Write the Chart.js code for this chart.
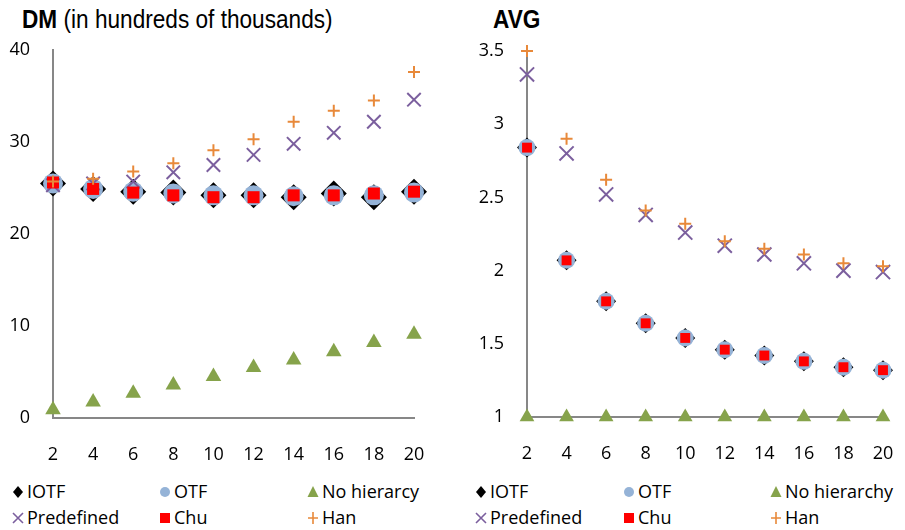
<!DOCTYPE html>
<html>
<head>
<meta charset="utf-8">
<script src="https://cdn.jsdelivr.net/npm/chart.js@4.4.1/dist/chart.umd.min.js"></script>
<style>
body { margin: 0; background: #fff; width: 905px; height: 530px; overflow: hidden; position: relative; font-family: "Open Sans", sans-serif; }
canvas.chart { position: absolute; top: 0; }
.title { position: absolute; top: 6px; font-family: "Liberation Sans", Arial, sans-serif; font-size: 26px; line-height: 26px; transform: scaleX(0.87); transform-origin: 0 0; white-space: nowrap; color: #000; }
.leg { position: absolute; font-size: 18px; line-height: 20px; white-space: nowrap; color: #000; }
.mark { position: absolute; }
</style>
</head>
<body>

<div class="title" style="left:22px"><b>DM</b> (in hundreds of thousands)</div>
<div class="title" style="left:493px"><b>AVG</b></div>

<canvas id="dmChart" class="chart" width="450" height="470" style="left:0;width:450px;height:470px"></canvas>
<canvas id="avgChart" class="chart" width="445" height="470" style="left:460px;width:445px;height:470px"></canvas>

<div id="legends"></div>

<script>
//Données
var xValues = [2, 4, 6, 8, 10, 12, 14, 16, 18, 20];
var dmLabels = ['IOTF', 'OTF', 'No hierarcy', 'Predefined', 'Chu', 'Han'];
var avgLabels = ['IOTF', 'OTF', 'No hierarchy', 'Predefined', 'Chu', 'Han'];

var dm_IOTF = [25.5, 24.9, 24.6, 24.5, 24.2, 24.2, 24.0, 24.4, 24.0, 24.6];
var dm_OTF = [25.5, 24.9, 24.6, 24.4, 24.2, 24.2, 24.1, 24.2, 24.2, 24.5];
var dm_NoHierarchy = [0.9, 1.75, 2.7, 3.6, 4.5, 5.5, 6.3, 7.2, 8.2, 9.1];
var dm_Predefined = [25.3, 25.5, 25.7, 26.7, 27.5, 28.6, 29.8, 31.0, 32.2, 34.6];
var dm_Chu = [25.6, 24.9, 24.5, 24.2, 24.0, 24.0, 24.2, 24.2, 24.4, 24.6];
var dm_Han = [25.7, 26.0, 26.8, 27.7, 29.1, 30.3, 32.2, 33.4, 34.5, 37.6];

var avg_IOTF = [2.84, 2.07, 1.79, 1.64, 1.54, 1.46, 1.42, 1.38, 1.34, 1.32];
var avg_OTF = [2.84, 2.07, 1.79, 1.64, 1.54, 1.46, 1.42, 1.38, 1.34, 1.32];
var avg_NoHierarchy = [1, 1, 1, 1, 1, 1, 1, 1, 1, 1];
var avg_Predefined = [3.34, 2.80, 2.52, 2.38, 2.26, 2.17, 2.11, 2.05, 2.00, 1.99];
var avg_Chu = [2.84, 2.07, 1.79, 1.64, 1.54, 1.46, 1.42, 1.38, 1.34, 1.32];
var avg_Han = [3.50, 2.90, 2.62, 2.41, 2.32, 2.20, 2.15, 2.11, 2.05, 2.03];

var dmTicks = { min: 0, max: 40, step: 10 };
var avgTicks = { min: 1, max: 3.5, step: 0.5 };

//Styles
var styles = [
    { pointStyle: 'rectRot', color: '#000000', line: false },
    { pointStyle: 'circle', color: '#95B3D7', line: false },
    { pointStyle: 'triangle', color: '#86A34B', line: false },
    { pointStyle: 'crossRot', color: '#7B5F9E', line: true },
    { pointStyle: 'rect', color: '#FF0000', line: false },
    { pointStyle: 'cross', color: '#E8893A', line: true }
];
var dmSizes = [13, 10, 9, 9.5, 8.5, 6];
var avgSizes = [10, 8.5, 8.5, 10, 7, 6];

function toPoints(values) {
    return xValues.map(function (x, i) { return { x: x, y: values[i] }; });
}

function buildDatasets(series, labels, sizes) {
    return series.map(function (values, i) {
        var st = styles[i];
        return {
            label: labels[i],
            data: toPoints(values),
            pointStyle: st.pointStyle,
            pointRadius: sizes[i],
            pointHoverRadius: sizes[i],
            backgroundColor: st.color,
            borderColor: st.color,
            pointBorderWidth: st.line ? 2 : 0,
            showLine: false,
            clip: false,
            order: 6 - i
        };
    });
}

function DisplayGraph(canvasId, series, labels, sizes, ticks, padRight, padTop, yWidth, xHeight) {
    var ctx = document.getElementById(canvasId).getContext('2d');
    return new Chart(ctx, {
        type: 'scatter',
        data: { datasets: buildDatasets(series, labels, sizes) },
        options: {
            responsive: false,
            animation: false,
            devicePixelRatio: 1,
            layout: { padding: { top: padTop, right: padRight, left: 0, bottom: 0 } },
            plugins: { legend: { display: false }, tooltip: { enabled: false } },
            scales: {
                x: {
                    type: 'linear', min: 2, max: 20,
                    border: { display: true, color: '#878787', width: 2 },
                    grid: { display: false, drawTicks: false },
                    ticks: { stepSize: 2, padding: 26, color: '#000', font: { family: 'Open Sans', size: 18 } },
                    afterFit: function (s) { s.height = xHeight; s.paddingLeft = 0; s.paddingRight = 0; }
                },
                y: {
                    min: ticks.min, max: ticks.max,
                    border: { display: true, color: '#878787', width: 2 },
                    grid: { display: false, drawTicks: false },
                    ticks: {
                        stepSize: ticks.step, padding: 23, color: '#000', font: { family: 'Open Sans', size: 18 },
                        callback: function (v) { return String(Math.round(v * 10) / 10); }
                    },
                    afterFit: function (s) { s.width = yWidth; s.paddingTop = 0; s.paddingBottom = 0; }
                }
            }
        }
    });
}

DisplayGraph('dmChart', [dm_IOTF, dm_OTF, dm_NoHierarchy, dm_Predefined, dm_Chu, dm_Han], dmLabels, dmSizes, dmTicks, 36, 50, 53, 52);
DisplayGraph('avgChart', [avg_IOTF, avg_OTF, avg_NoHierarchy, avg_Predefined, avg_Chu, avg_Han], avgLabels, avgSizes, avgTicks, 22, 51, 67, 53);

//Légendes
function drawMark(c, st) {
    var g = c.getContext('2d');
    var x = 8, y = 8;
    g.fillStyle = st.color;
    g.strokeStyle = st.color;
    g.lineWidth = 1.6;
    g.beginPath();
    if (st.pointStyle === 'rectRot') { g.moveTo(x, y - 6); g.lineTo(x + 5, y); g.lineTo(x, y + 6); g.lineTo(x - 5, y); g.closePath(); g.fill(); }
    else if (st.pointStyle === 'circle') { g.arc(x, y, 5, 0, Math.PI * 2); g.fill(); }
    else if (st.pointStyle === 'triangle') { g.moveTo(x, y - 6); g.lineTo(x + 5.5, y + 5); g.lineTo(x - 5.5, y + 5); g.closePath(); g.fill(); }
    else if (st.pointStyle === 'crossRot') { g.moveTo(x - 5, y - 5); g.lineTo(x + 5, y + 5); g.moveTo(x + 5, y - 5); g.lineTo(x - 5, y + 5); g.stroke(); }
    else if (st.pointStyle === 'rect') { g.fillRect(x - 5, y - 5, 10, 10); }
    else if (st.pointStyle === 'cross') { g.moveTo(x - 5, y); g.lineTo(x + 5, y); g.moveTo(x, y - 6); g.lineTo(x, y + 6); g.stroke(); }
}

function DisplayLegend(labels, columns) {
    var holder = document.getElementById('legends');
    var rows = [492, 518];
    labels.forEach(function (name, i) {
        var mx = columns[i % 3], cy = rows[Math.floor(i / 3)];
        var c = document.createElement('canvas');
        c.width = 16; c.height = 16; c.className = 'mark';
        c.style.left = (mx - 8) + 'px'; c.style.top = (cy - 8) + 'px';
        drawMark(c, styles[i]);
        holder.appendChild(c);
        var t = document.createElement('div');
        t.className = 'leg';
        t.textContent = name;
        t.style.left = (mx + 9) + 'px';
        t.style.top = (cy - 11) + 'px';
        holder.appendChild(t);
    });
}

DisplayLegend(dmLabels, [18, 165, 313]);
DisplayLegend(avgLabels, [481, 629, 776]);
</script>
</body>
</html>
